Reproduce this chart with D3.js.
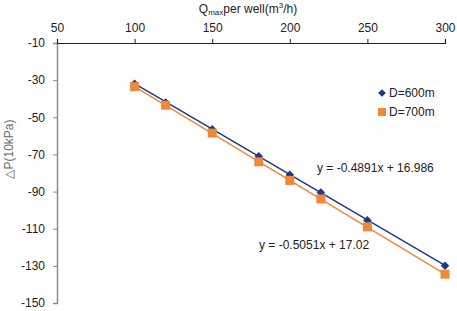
<!DOCTYPE html>
<html>
<head>
<meta charset="utf-8">
<script src="https://cdn.jsdelivr.net/npm/d3@7"></script>
<style>
  body { margin: 0; background: #fff; }
  text { font-family: "Liberation Sans", Arial, sans-serif; }
</style>
</head>
<body>
<svg id="chart" width="457" height="311"></svg>
<script>
const flows = [100, 120, 150, 180, 200, 220, 250, 300];
const dp600 = [-32, -42, -56.5, -71, -81, -90.5, -105.5, -130];
const dp700 = [-33.5, -43.5, -58.5, -74, -84, -94, -109, -134.5];
const seriesNames = ["D=600m", "D=700m"];
const slopes = [-0.4891, -0.5051];
const intercepts = [16.986, 17.02];
const equations = ["y = -0.4891x + 16.986", "y = -0.5051x + 17.02"];
const xTicks = [50, 100, 150, 200, 250, 300];
const yTicks = [-10, -30, -50, -70, -90, -110, -130, -150];

const svg = d3.select("#chart");
const margin = { top: 43, right: 12, bottom: 8, left: 57 };
const width = +svg.attr("width");
const height = +svg.attr("height");

const x = d3.scaleLinear().domain([50, 300]).range([margin.left, width - margin.right]);
const y = d3.scaleLinear().domain([-10, -150]).range([margin.top, height - margin.bottom]);

const colors = ["#1f3a82", "#f0883a"];
const fmt = d => String(d);

// y axis
const yAxis = svg.append("g")
    .attr("transform", `translate(${margin.left},0)`)
    .call(d3.axisLeft(y).tickValues(yTicks).tickFormat(fmt).tickSize(4).tickPadding(8));
yAxis.select(".domain").attr("stroke", "#8c8c8c").attr("stroke-width", 1.5);
yAxis.selectAll(".tick line").attr("stroke", "#8c8c8c");
yAxis.selectAll("text").attr("font-size", 12).attr("fill", "#222")
    .style("font-family", "Liberation Sans, Arial, sans-serif");

// x axis on top
const xAxis = svg.append("g")
    .attr("transform", `translate(0,${margin.top})`)
    .call(d3.axisTop(x).tickValues(xTicks).tickFormat(fmt).tickSize(4).tickPadding(7));
xAxis.select(".domain").attr("stroke", "#222").attr("stroke-width", 1.2);
xAxis.selectAll(".tick line").attr("stroke", "#222");
xAxis.selectAll("text").attr("font-size", 12).attr("fill", "#222")
    .style("font-family", "Liberation Sans, Arial, sans-serif");

// x title
const xt = svg.append("text")
    .attr("x", 248)
    .attr("y", 13)
    .attr("text-anchor", "middle")
    .attr("font-size", 12)
    .attr("fill", "#222");
xt.append("tspan").text("Q");
xt.append("tspan").attr("font-size", 8).attr("dy", 2).text("max");
xt.append("tspan").attr("dy", -2).text("per well(m");
xt.append("tspan").attr("font-size", 8).attr("dy", -5).text("3");
xt.append("tspan").attr("dy", 5).text("/h)");

// y title
svg.append("text")
    .attr("transform", "rotate(-90)")
    .attr("x", -149)
    .attr("y", 13)
    .attr("text-anchor", "middle")
    .attr("font-size", 12)
    .attr("fill", "#666")
    .text("△P(10kPa)");

// trend lines
[1, 0].forEach(i => {
    svg.append("line")
        .attr("x1", x(flows[0]))
        .attr("y1", y(slopes[i] * flows[0] + intercepts[i]))
        .attr("x2", x(flows[flows.length - 1]))
        .attr("y2", y(slopes[i] * flows[flows.length - 1] + intercepts[i]))
        .attr("stroke", colors[i])
        .attr("stroke-width", 1.5);
});

// markers
const diamond = d3.symbol().type(d3.symbolSquare).size(36);
svg.append("g").selectAll("path")
    .data(flows.map((f, i) => ({ f, v: dp600[i] })))
    .join("path")
    .attr("d", diamond)
    .attr("transform", d => `translate(${x(d.f)},${y(d.v)}) rotate(45)`)
    .attr("fill", colors[0]);

svg.append("g").selectAll("rect")
    .data(flows.map((f, i) => ({ f, v: dp700[i] })))
    .join("rect")
    .attr("x", d => x(d.f) - 4.5)
    .attr("y", d => y(d.v) - 4.5)
    .attr("width", 9)
    .attr("height", 9)
    .attr("fill", colors[1]);

// equations
svg.append("text").attr("x", 317).attr("y", 172).attr("font-size", 12).attr("fill", "#222").text(equations[0]);
svg.append("text").attr("x", 259).attr("y", 249).attr("font-size", 12).attr("fill", "#222").text(equations[1]);

// legend
const legend = svg.append("g").attr("transform", "translate(382,93)");
legend.append("path").attr("d", d3.symbol().type(d3.symbolSquare).size(30)).attr("transform", "rotate(45)").attr("fill", colors[0]);
legend.append("rect").attr("x", -4).attr("y", 15).attr("width", 8).attr("height", 8).attr("fill", colors[1]);
seriesNames.forEach((s, i) => {
    legend.append("text").attr("x", 7).attr("y", 4 + i * 19).attr("font-size", 12).attr("fill", "#222").text(s);
});
</script>
</body>
</html>
